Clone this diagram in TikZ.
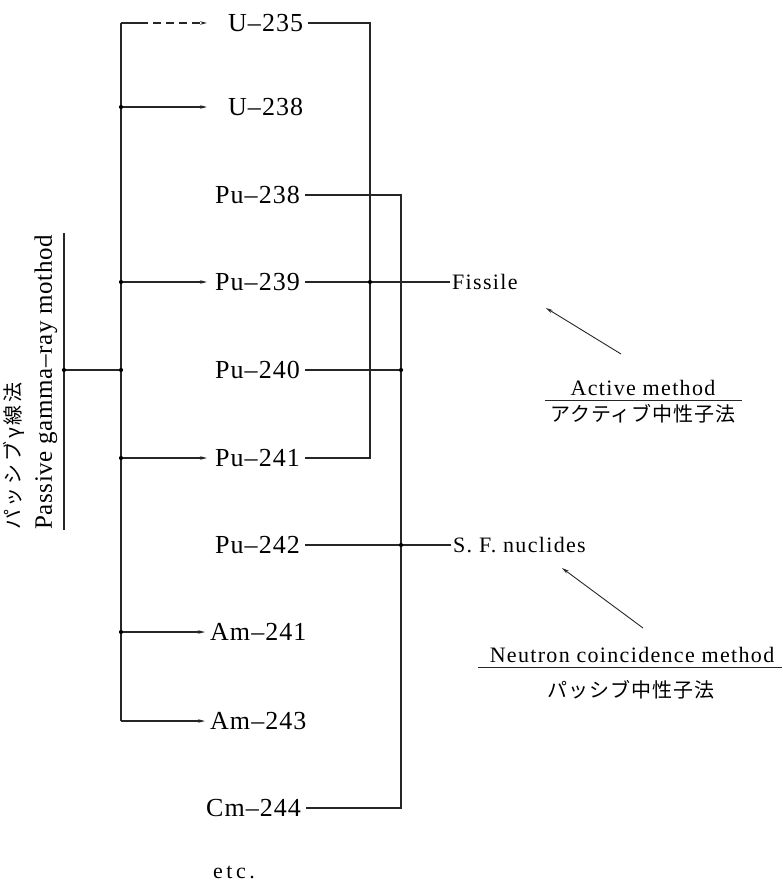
\documentclass[tikz,border=0pt]{standalone}
\usepackage{fontspec}
\setmainfont{Liberation Serif}
\newfontfamily\lab[LetterSpace=4]{Liberation Serif}
\newfontfamily\labm[LetterSpace=6]{Liberation Serif}
\newfontfamily\labp[LetterSpace=2.5]{Liberation Serif}
\newfontfamily\wide[LetterSpace=16]{Liberation Serif}
\newfontfamily\cjk[LetterSpace=5]{Noto Sans CJK JP}
\newfontfamily\cjkv[LetterSpace=14]{Noto Sans CJK JP}
\usetikzlibrary{arrows.meta,calc}
\begin{document}
\begin{tikzpicture}[x=1pt,y=-1pt,
  nuc/.style={font=\lab\fontsize{26}{30}\selectfont, anchor=west, inner xsep=5pt, inner ysep=0pt},
  lbl/.style={font=\labm\fontsize{22}{26}\selectfont, inner sep=0pt},
  jp/.style={font=\cjk\fontsize{20}{24}\selectfont, inner sep=0pt},
  ln/.style={line width=1.1pt, draw=black!85},
  arr/.style={ln, -{Stealth[length=7pt,width=3.5pt]}},
  dotm/.style={circle, fill=black, inner sep=0pt, minimum size=4.2pt}
]
\useasboundingbox (0,0) rectangle (782,883);

% nuclide labels
\node[nuc] (U235)  at (223,23)  {U–235};
\node[nuc] (U238)  at (223,107) {U–238};
\node[nuc] (Pu238) at (210,195) {Pu–238};
\node[nuc] (Pu239) at (210,282) {Pu–239};
\node[nuc] (Pu240) at (210,370) {Pu–240};
\node[nuc] (Pu241) at (210,458) {Pu–241};
\node[nuc] (Pu242) at (210,545) {Pu–242};
\node[nuc] (Am241) at (205,632) {Am–241};
\node[nuc] (Am243) at (205,721) {Am–243};
\node[nuc] (Cm244) at (201,808) {Cm–244};
\node[inner sep=0pt, anchor=west, font=\wide\fontsize{22}{26}\selectfont] (etc) at (213,872) {etc.};

% right-hand labels
\node[lbl, anchor=west, inner xsep=2pt] (Fis) at (450,282) {Fissile};
\node[lbl, anchor=west, inner xsep=2pt] (SF)  at (451,545) {S. F. nuclides};

\node[lbl] (act) at (643,388) {Active method};
\node[jp]  (actj) at (643,414) {アクティブ中性子法};
\node[lbl] (neu) at (632,655) {Neutron coincidence method};
\node[jp]  (neuj) at (631,690) {パッシブ中性子法};

% left rotated labels
\node[font=\labp\fontsize{25}{29}\selectfont, inner sep=0pt, rotate=90, anchor=west] (pen) at (46,530) {Passive gamma–ray mothod};
\node[font=\cjkv\fontsize{20}{24}\selectfont, inner sep=0pt, rotate=90, anchor=west] (pjp) at (14,530) {パッシブγ線法};

% coordinates
\coordinate (bt) at (121,23);
\coordinate (bd) at (140,23);
\coordinate (b107) at (121,107);
\coordinate (b282) at (121,282);
\coordinate (b370) at (121,370);
\coordinate (b458) at (121,458);
\coordinate (b632) at (121,632);
\coordinate (bb) at (121,721);
\coordinate (ls) at (64,370);
\coordinate (ult) at (64,233);
\coordinate (ulb) at (64,530);
\coordinate (r1t) at (370,23);
\coordinate (r1m) at (370,282);
\coordinate (r1b) at (370,458);
\coordinate (r2t) at (401,195);
\coordinate (r2a) at (401,370);
\coordinate (r2c) at (401,545);
\coordinate (r2b) at (401,808);
\coordinate (u1a) at (545,400);
\coordinate (u1b) at (742,400);
\coordinate (u2a) at (478,667);
\coordinate (u2b) at (782,667);
\coordinate (a1s) at (621,354);
\coordinate (a1e) at (546,308);
\coordinate (a2s) at (643,628);
\coordinate (a2e) at (562,568);

% left bus
\draw[ln] (bt) -- (bb);
\draw[ln] (bt) -- (bd);
\draw[ln, dash pattern=on 8pt off 5pt, -{Stealth[length=7pt,width=3.5pt]}, shorten >=16pt] (bd) -- (U235.west);
\draw[arr, shorten >=16pt] (b107) -- (U238.west);
\draw[arr, shorten >=3pt] (b282) -- (Pu239.west);
\draw[arr, shorten >=3pt] (b458) -- (Pu241.west);
\draw[arr] (b632) -- (Am241.west);
\draw[arr] (bb) -- (Am243.west);
\draw[ln] (ls) -- (b370);
\draw[ln] (ult) -- (ulb);

% right connections
\draw[ln] (U235.east) -- (r1t) -- (r1b) -- (Pu241.east);
\draw[ln] (Pu238.east) -- (r2t) -- (r2b) -- (Cm244.east);
\draw[ln] (Pu239.east) -- (Fis.west);
\draw[ln] (Pu240.east) -- (r2a);
\draw[ln] (Pu242.east) -- (SF.west);

% dots
\foreach \p in {b107,b282,b370,b458,b632,ls,r1m,r2a,r2c}
  \node[dotm] at (\p) {};

% method labels
\draw[ln, line width=0.9pt] (u1a) -- (u1b);
\draw[ln, line width=0.9pt] (u2a) -- (u2b);
\draw[arr, line width=0.9pt] (a1s) -- (a1e);
\draw[arr, line width=0.9pt] (a2s) -- (a2e);
\end{tikzpicture}
\end{document}
